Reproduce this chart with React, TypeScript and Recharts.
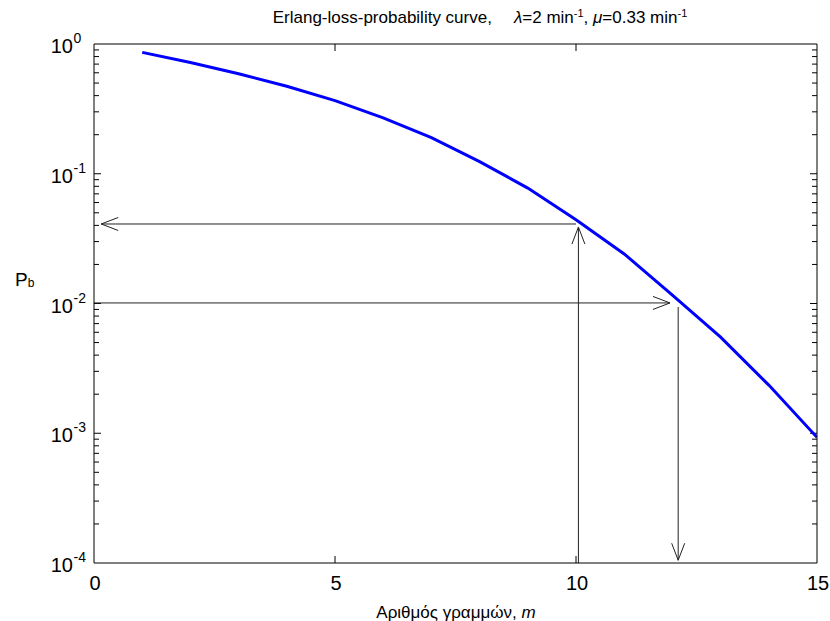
import { LineChart, Line, XAxis, YAxis, ReferenceLine } from 'recharts'

// number of lines m and blocking probability
const lines = [1, 2, 3, 4, 5, 6, 7, 8, 9, 10, 11, 12, 13, 14, 15]
const pb = [0.862, 0.72, 0.59, 0.472, 0.366, 0.27, 0.19, 0.124, 0.0775, 0.0442, 0.0241, 0.0116, 0.0055, 0.00235, 0.00093]

const xTicks = [0, 5, 10, 15]
const yMajor = [1e-4, 1e-3, 1e-2, 1e-1, 1]
const yMinor = [-4, -3, -2, -1].flatMap(e => [2, 3, 4, 5, 6, 7, 8, 9].map(k => k * Math.pow(10, e)))

// guide arrows: [from, to], arrowhead at "to"
const arrows = [
  [{ x: 10.0, y: 0.041 }, { x: 0.15, y: 0.041 }],
  [{ x: 10.05, y: 1e-4 }, { x: 10.05, y: 0.0388 }],
  [{ x: 0, y: 0.0101 }, { x: 11.95, y: 0.0101 }],
  [{ x: 12.12, y: 0.0094 }, { x: 12.12, y: 1.05e-4 }],
]

const data = lines.map((m, i) => ({ m, pb: pb[i] }))

const W = 830
const H = 621
// axes are 1px wide/high each (0 would hide them), so subtract them here
const margin = { top: 43, right: 12, bottom: 57, left: 93 }
const font = '"Liberation Sans", Arial, sans-serif'
const MAJOR = 7
const MINOR = 5

// inward tick marks, anchored on the axis position given by the scales
type Mark = { x: number; y: number; dx: number; dy: number }
const marks: Mark[] = [
  ...xTicks.slice(1, -1).flatMap(v => [
    { x: v, y: 1e-4, dx: 0, dy: -MAJOR },
    { x: v, y: 1, dx: 0, dy: MAJOR },
  ]),
  ...yMajor.slice(1, -1).flatMap(v => [
    { x: 0, y: v, dx: MAJOR, dy: 0 },
    { x: 15, y: v, dx: -MAJOR, dy: 0 },
  ]),
  ...yMinor.flatMap(v => [
    { x: 0, y: v, dx: MINOR, dy: 0 },
    { x: 15, y: v, dx: -MINOR, dy: 0 },
  ]),
]

function Arrow(props: any) {
  const { x1, y1, x2, y2 } = props
  const a = Math.atan2(y2 - y1, x2 - x1)
  const len = 17
  const hw = 6.5
  const bx = x2 - len * Math.cos(a)
  const by = y2 - len * Math.sin(a)
  const nx = -Math.sin(a) * hw
  const ny = Math.cos(a) * hw
  return (
    <g stroke="#222" strokeWidth={1} fill="none">
      <line x1={x1} y1={y1} x2={x2} y2={y2} />
      <polyline points={`${bx + nx},${by + ny} ${x2},${y2} ${bx - nx},${by - ny}`} />
    </g>
  )
}

function TickShape(props: any) {
  const { x1, y1, dx, dy } = props
  return <line x1={x1} y1={y1} x2={x1 + dx} y2={y1 + dy} stroke="#000" strokeWidth={1} />
}

function YTick({ x, y, payload }: any) {
  const e = Math.round(Math.log10(payload.value))
  return (
    <g fontFamily={font}>
      <text x={x} y={y + 9} fontSize={20} textAnchor="end" fill="#000">10</text>
      <text x={x + 0.5} y={y - 1} fontSize={14} textAnchor="start" fill="#000">{e}</text>
    </g>
  )
}

function XTick({ x, y, payload }: any) {
  return (
    <text x={x + 1} y={y} fontSize={20} fontFamily={font} textAnchor="middle" fill="#000">
      {payload.value}
    </text>
  )
}

export default function App() {
  const yCommon = {
    type: 'number' as const,
    scale: 'log' as const,
    domain: [1e-4, 1],
    allowDataOverflow: true,
    width: 1,
    stroke: '#000',
    interval: 0 as const,
    tickLine: false,
    tickSize: 0,
  }
  const xCommon = {
    type: 'number' as const,
    dataKey: 'm',
    domain: [0, 15],
    allowDataOverflow: true,
    height: 1,
    stroke: '#000',
    interval: 0 as const,
    tickLine: false,
    tickSize: 0,
  }
  return (
    <div style={{ position: 'absolute', left: 0, top: 0, width: W, height: H, background: '#fff' }}>
      <LineChart width={W} height={H} data={data} margin={margin}>
        <XAxis {...xCommon} xAxisId="b" orientation="bottom" ticks={xTicks} tickMargin={27} tick={<XTick />} />
        <XAxis {...xCommon} xAxisId="t" orientation="top" ticks={xTicks} tick={false} />
        <YAxis {...yCommon} yAxisId="l" orientation="left" ticks={yMajor} tickMargin={21} tick={<YTick />} />
        <YAxis {...yCommon} yAxisId="r" orientation="right" ticks={yMajor} tick={false} />
        {marks.map((m, i) => (
          <ReferenceLine
            key={'m' + i}
            xAxisId="b"
            yAxisId="l"
            segment={[{ x: m.x, y: m.y }, { x: m.x, y: m.y }]}
            ifOverflow="visible"
            shape={<TickShape dx={m.dx} dy={m.dy} />}
          />
        ))}
        {arrows.map((seg, i) => (
          <ReferenceLine
            key={i}
            xAxisId="b"
            yAxisId="l"
            segment={seg}
            ifOverflow="visible"
            shape={(p: any) => <Arrow {...p} />}
          />
        ))}
        <Line
          xAxisId="b"
          yAxisId="l"
          dataKey="pb"
          stroke="#0000ff"
          strokeWidth={3}
          dot={false}
          isAnimationActive={false}
        />
      </LineChart>
      <svg width={W} height={H} style={{ position: 'absolute', left: 0, top: 0, pointerEvents: 'none' }} fontFamily={font}>
        <text x={480} y={23} fontSize={17} textAnchor="middle" fill="#000">
          Erlang-loss-probability curve,
          <tspan dx={22} fontStyle="italic">λ</tspan>
          <tspan>=2 min</tspan>
          <tspan dy={-6} fontSize={11}>-1</tspan>
          <tspan dy={6}>, </tspan>
          <tspan fontStyle="italic">μ</tspan>
          <tspan>=0.33 min</tspan>
          <tspan dy={-6} fontSize={11}>-1</tspan>
        </text>
        <text x={456} y={618} fontSize={17} textAnchor="middle" fill="#000">
          Αριθμός γραμμών, <tspan fontStyle="italic">m</tspan>
        </text>
        <text x={15} y={286} fontSize={19} fill="#000">
          P<tspan dy={1} fontSize={12}>b</tspan>
        </text>
      </svg>
    </div>
  )
}
